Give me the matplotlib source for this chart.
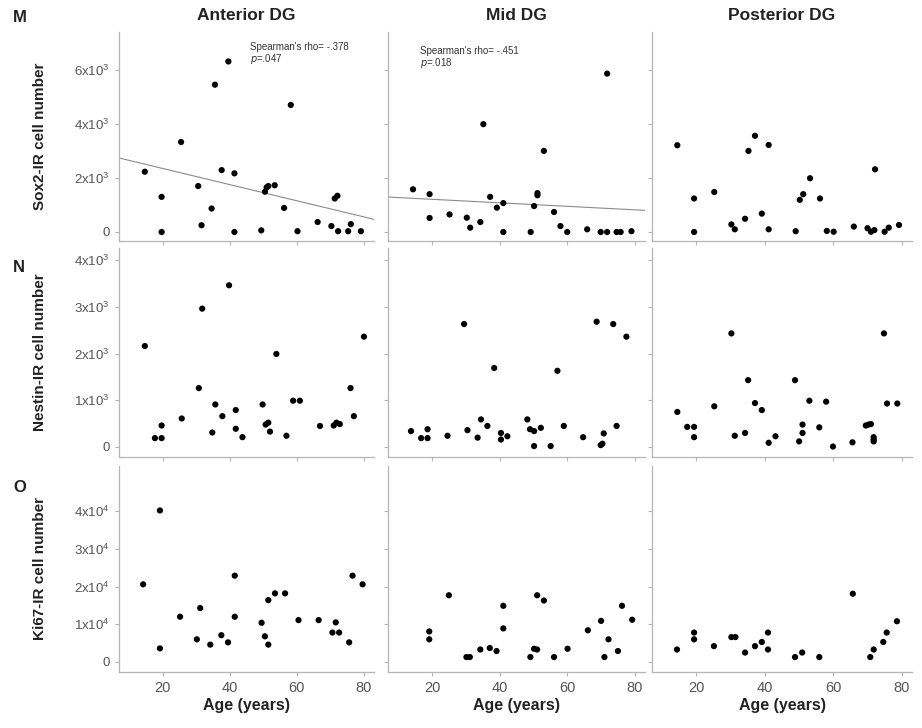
import matplotlib.pyplot as plt
import numpy as np

plt.rcParams['font.family'] = ['Liberation Sans', 'DejaVu Sans']
plt.rcParams['mathtext.default'] = 'regular'

regions = ['Anterior DG', 'Mid DG', 'Posterior DG']
row_labels = ['Sox2-IR cell number', 'Nestin-IR cell number', 'Ki67-IR cell number']
panel_letters = ['M', 'N', 'O']

# --- Sox2 ---
sox2_ant_age = [14.7, 19.7, 19.7, 25.5, 30.6, 31.6, 34.6, 35.6, 37.6, 39.6, 41.4, 41.4, 49.4, 50.5,
                51.0, 51.5, 53.4, 56.2, 58.2, 60.2, 66.2, 70.3, 71.3, 72.1, 72.3, 75.3, 76.1, 79.1]
sox2_ant_n = [2230, 1300, 0, 3330, 1700, 250, 870, 5450, 2290, 6310, 2170, 0, 60, 1490,
              1650, 1700, 1730, 890, 4700, 30, 370, 220, 1240, 1340, 30, 30, 290, 30]
sox2_mid_age = [14.4, 19.3, 19.3, 25.2, 30.3, 31.3, 34.3, 35.2, 37.2, 39.2, 41.1, 41.1, 49.2, 50.2,
                51.2, 51.2, 53.1, 56.1, 58.0, 60.0, 65.9, 69.9, 71.8, 71.8, 74.6, 75.8, 79.0]
sox2_mid_n = [1580, 1400, 520, 650, 530, 160, 370, 3990, 1300, 900, 1070, 0, 0, 960,
              1440, 1360, 3000, 740, 220, 0, 100, 0, 0, 5860, 0, 0, 30]
sox2_post_age = [14.4, 19.3, 19.3, 25.2, 30.2, 31.2, 34.2, 35.2, 37.1, 39.1, 41.1, 41.1, 49.0, 50.2,
                 51.2, 53.2, 56.1, 58.1, 60.1, 66.0, 70.0, 71.0, 72.0, 72.2, 75.0, 76.2, 79.2]
sox2_post_n = [3210, 1240, 0, 1480, 280, 100, 490, 3000, 3560, 680, 3220, 100, 30, 1190,
               1400, 1990, 1240, 40, 10, 200, 140, 10, 70, 2320, 10, 160, 260]

# --- Nestin ---
nes_ant_age = [14.7, 17.7, 19.7, 19.7, 25.7, 30.8, 31.8, 34.8, 35.7, 37.8, 39.8, 41.8, 41.8, 43.8, 49.8,
               50.7, 51.5, 52.0, 53.9, 56.9, 58.9, 60.9, 66.9, 71.0, 71.8, 72.8, 76.0, 77.0, 80.0]
nes_ant_n = [2160, 190, 190, 460, 610, 1260, 2960, 310, 910, 660, 3460, 790, 390, 210, 910,
             480, 520, 330, 1990, 240, 990, 990, 450, 460, 520, 490, 1260, 660, 2360]
nes_mid_age = [13.8, 16.8, 18.7, 18.7, 24.6, 29.5, 30.5, 33.5, 34.5, 36.4, 38.4, 40.4, 40.4, 42.3, 48.2,
               49.0, 50.2, 50.2, 52.2, 55.1, 57.1, 59.0, 64.7, 68.7, 69.9, 70.4, 70.8, 73.6, 74.6, 77.5]
nes_mid_n = [340, 190, 380, 190, 240, 2630, 360, 200, 590, 450, 1690, 300, 160, 230, 590,
             380, 340, 20, 410, 20, 1630, 450, 210, 2680, 40, 70, 290, 2630, 450, 2360]
nes_post_age = [14.4, 17.3, 19.3, 19.3, 25.2, 30.2, 31.2, 34.2, 35.1, 37.1, 39.1, 41.1, 43.1, 48.8, 50.0,
                51.0, 51.0, 53.0, 55.9, 57.9, 59.9, 65.6, 69.5, 70.3, 71.0, 71.8, 71.8, 71.8, 74.8, 75.7, 78.7]
nes_post_n = [750, 430, 430, 210, 870, 2430, 240, 300, 1430, 940, 790, 90, 230, 1430, 120,
              480, 300, 990, 420, 970, 10, 100, 460, 480, 490, 210, 160, 120, 2430, 930, 930]

# --- Ki67 ---
ki_ant_age = [14.2, 19.2, 19.2, 25.2, 30.2, 31.2, 34.2, 37.5, 39.5, 41.5, 41.5, 49.5, 50.5, 51.5,
              51.5, 53.5, 56.5, 60.5, 66.5, 70.6, 71.6, 72.6, 75.6, 76.6, 79.6]
ki_ant_n = [20600, 40200, 3600, 12000, 6000, 14300, 4600, 7100, 5200, 22900, 12000, 10400, 6800, 16400,
            4600, 18200, 18200, 11100, 11100, 7800, 10500, 7800, 5200, 22900, 20600]
ki_mid_age = [19.2, 19.2, 25.0, 30.2, 31.2, 34.3, 37.1, 39.1, 41.1, 41.1, 49.1, 50.2, 51.1, 51.1,
              53.1, 56.1, 60.1, 66.1, 70.0, 71.0, 72.2, 75.0, 76.2, 79.2]
ki_mid_n = [8100, 6000, 17700, 1300, 1300, 3300, 3700, 2900, 14900, 8900, 1300, 3500, 3300, 17700,
            16300, 1300, 3500, 8400, 10900, 1300, 6000, 2900, 14900, 11200]
ki_post_age = [14.3, 19.3, 19.3, 25.1, 30.2, 31.4, 34.2, 37.1, 39.1, 40.9, 40.9, 48.8, 50.9, 55.9,
               65.7, 70.8, 71.8, 74.6, 75.6, 78.6]
ki_post_n = [3300, 7800, 6000, 4200, 6600, 6600, 2500, 4200, 5300, 7800, 3300, 1300, 2500, 1300,
             18100, 1300, 3300, 5300, 7800, 10800]

ages = [[sox2_ant_age, sox2_mid_age, sox2_post_age],
        [nes_ant_age, nes_mid_age, nes_post_age],
        [ki_ant_age, ki_mid_age, ki_post_age]]
counts = [[sox2_ant_n, sox2_mid_n, sox2_post_n],
          [nes_ant_n, nes_mid_n, nes_post_n],
          [ki_ant_n, ki_mid_n, ki_post_n]]

# regression lines (intercept, slope), Sox2 row only
sox2_fits = [(2950, -29.9), (1340, -6.5), None]
sox2_stats = [("Spearman's rho= -.378", r"$\it{p}$=.047"),
              ("Spearman's rho= -.451", r"$\it{p}$=.018"),
              None]

yticks = [[0, 2000, 4000, 6000], [0, 1000, 2000, 3000, 4000], [0, 10000, 20000, 30000, 40000]]
ytick_labels = [['0', r'2x10$^{3}$', r'4x10$^{3}$', r'6x10$^{3}$'],
                ['0', r'1x10$^{3}$', r'2x10$^{3}$', r'3x10$^{3}$', r'4x10$^{3}$'],
                ['0', r'1x10$^{4}$', r'2x10$^{4}$', r'3x10$^{4}$', r'4x10$^{4}$']]
ylims = [(-333, 7400), (-214, 4257), (-2667, 52000)]
xticks = [20, 40, 60, 80]

W, H = 922, 728
fig = plt.figure(figsize=(W / 100, H / 100), dpi=100)

col_left = [119, 388, 652]
col_width = [255, 257, 260]
row_top = [32, 248, 466]
row_bot = [241, 457, 672]

spine_col = '#b5b5b5'
tick_col = '#555555'

# where the stats text sits (axes fraction)
stat_x = [0.514, 0.125]
stat_y = [(0.928, 0.871), (0.909, 0.852)]

for r in range(3):
    for c in range(3):
        ax = fig.add_axes([col_left[c] / W, 1 - row_bot[r] / H,
                           col_width[c] / W, (row_bot[r] - row_top[r]) / H])
        ax.scatter(ages[r][c], counts[r][c], s=20, c='black', edgecolors='none', zorder=3)
        ax.set_xlim(7, 83)
        ax.set_ylim(*ylims[r])
        for s in ['top', 'right']:
            ax.spines[s].set_visible(False)
        for s in ['left', 'bottom']:
            ax.spines[s].set_color(spine_col)
            ax.spines[s].set_linewidth(0.9)
        ax.set_xticks(xticks)
        ax.set_yticks(yticks[r])
        ax.tick_params(length=3, width=0.8, color=spine_col, labelcolor=tick_col, labelsize=9.5)
        if c == 0:
            ax.set_yticklabels(ytick_labels[r])
        else:
            ax.set_yticklabels([])
        if r == 2:
            ax.set_xticklabels([str(t) for t in xticks], fontsize=10.5)
            ax.set_xlabel('Age (years)', fontsize=11.5, fontweight='bold', color='#222222', labelpad=2)
        else:
            ax.set_xticklabels([])
        if r == 0 and sox2_fits[c] is not None:
            b0, b1 = sox2_fits[c]
            xl = np.array(ax.get_xlim())
            ax.plot(xl, b0 + b1 * xl, color='#8a8a8a', lw=0.8, zorder=2)
        if r == 0 and sox2_stats[c] is not None:
            ax.text(stat_x[c], stat_y[c][0], sox2_stats[c][0], transform=ax.transAxes,
                    fontsize=7, color='#333333', va='center')
            ax.text(stat_x[c], stat_y[c][1], sox2_stats[c][1], transform=ax.transAxes,
                    fontsize=7, color='#333333', va='center')

for c in range(3):
    fig.text((col_left[c] + col_width[c] / 2) / W, 1 - 16 / H, regions[c],
             ha='center', va='center', fontsize=12.5, fontweight='bold', color='#222222')

letter_y = [18, 268, 488]
for r in range(3):
    fig.text(13 / W, 1 - letter_y[r] / H, panel_letters[r], ha='left', va='center',
             fontsize=12, fontweight='bold', color='#222222')
    fig.text(40 / W, 1 - ((row_top[r] + row_bot[r]) / 2) / H, row_labels[r], rotation=90,
             ha='center', va='center', fontsize=11, fontweight='bold', color='#222222')

fig.savefig('out.png', dpi=100)
